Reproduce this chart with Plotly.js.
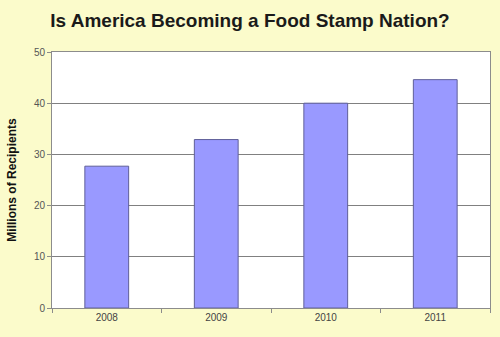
<!DOCTYPE html>
<html>
<head>
<meta charset="utf-8">
<script src="https://cdn.plot.ly/plotly-3.0.1.min.js"></script>
<style>html,body{margin:0;padding:0;background:#fbfbcb;}#chart{width:500px;height:337px;}</style>
</head>
<body>
<div id="chart"></div>
<script>
const years = ["2008", "2009", "2010", "2011"];
const recipients = [27.7, 32.9, 40.0, 44.6];
const yTicks = [0, 10, 20, 30, 40, 50];

const trace = {
  type: "bar",
  x: years,
  y: recipients,
  marker: { color: "#9999ff", line: { color: "#5f5f99", width: 1 } },
  hoverinfo: "x+y"
};

const layout = {
  width: 500,
  height: 337,
  paper_bgcolor: "#fbfbcb",
  plot_bgcolor: "#ffffff",
  margin: { l: 52, r: 10, t: 52, b: 29 },
  bargap: 0.6,
  showlegend: false,
  font: { family: "Liberation Sans, Arial, sans-serif", color: "#333333" },
  title: {
    text: "<b>Is America Becoming a Food Stamp Nation?</b>",
    font: { size: 19, color: "#1a1a1a", family: "Liberation Sans, Arial, sans-serif" },
    x: 0.5, xanchor: "center", y: 0.94, yanchor: "middle"
  },
  xaxis: {
    type: "category",
    showline: true, linecolor: "#8c8c8c", linewidth: 1, mirror: true,
    ticks: "outside", tickson: "boundaries", ticklen: 4, tickcolor: "#8c8c8c",
    tickfont: { size: 10, color: "#444444" },
    showgrid: false, zeroline: false, fixedrange: true
  },
  yaxis: {
    range: [0, 50],
    tickvals: yTicks,
    ticktext: yTicks.map(String),
    showline: true, linecolor: "#8c8c8c", linewidth: 1, mirror: true,
    ticks: "outside", ticklen: 4, tickcolor: "#8c8c8c",
    tickfont: { size: 10, color: "#555555" },
    showgrid: true, gridcolor: "#808080", gridwidth: 1,
    zeroline: false, fixedrange: true,
    title: { text: "<b>Millions of Recipients</b>", font: { size: 12, color: "#111111" }, standoff: 14 }
  }
};

Plotly.newPlot("chart", [trace], layout, { displayModeBar: false, staticPlot: true });
</script>
</body>
</html>
